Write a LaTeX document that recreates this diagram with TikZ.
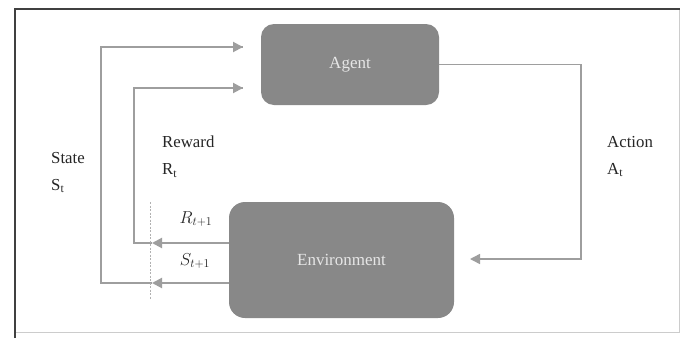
\documentclass[tikz,border=0pt]{standalone}
\usepackage{fontspec}
\setmainfont{Liberation Serif}
\usetikzlibrary{arrows.meta}
\definecolor{boxfill}{HTML}{888888}
\definecolor{linegray}{HTML}{9E9E9E}
\definecolor{boxtext}{HTML}{E6E6E6}
\begin{document}
\begin{tikzpicture}[x=1pt,y=-1pt,
  block/.style={draw=none, fill=boxfill, rounded corners=13pt, inner sep=0pt,
    text=boxtext, font=\fontsize{17}{20}\selectfont},
  link/.style={draw=linegray, line width=2pt},
  flow/.style={link, -{Triangle[length=10pt,width=10pt]}},
  thinflow/.style={draw=linegray, line width=1.5pt, -{Triangle[length=10pt,width=10pt]}},
  lbl/.style={font=\fontsize{16.8}{27}\selectfont, text=black!85, align=left, inner sep=0pt, anchor=north west},
  mlbl/.style={font=\fontsize{17}{20}\selectfont, text=black!85, inner sep=0pt}]
  \useasboundingbox (0,0) rectangle (688,338);
  \fill[white] (0,0) rectangle (688,338);
  % frame
  \draw[gray!40, line width=1pt] (679,9) -- (679,332) -- (15,332);
  \draw[black!75, line width=2pt] (15,338) -- (15,9) -- (680,9);

  % blocks
  \node[block, minimum width=178pt, minimum height=81pt] (agent) at (350,64.5) {Agent};
  \node[block, minimum width=225pt, minimum height=116pt, rounded corners=16pt] (env) at (341.5,260) {Environment};

  % split points and free ends
  \coordinate (rtip) at (152,243);
  \coordinate (stip) at (152,283);
  \coordinate (rin) at (243,88);
  \coordinate (sin) at (243,47);
  \coordinate (aturn) at (581,259);
  \coordinate (ain) at (470,259);

  % reward feedback
  \draw[flow] (env.west |- rtip) -- (rtip);
  \draw[link] (rtip) -- (134,243) -- (134,88) -- (rin);
  \draw[flow] (200,88) -- (rin);
  % state feedback
  \draw[flow] (env.west |- stip) -- (stip);
  \draw[link] (stip) -- (101,283) -- (101,47) -- (sin);
  \draw[flow] (200,47) -- (sin);
  % action
  \draw[thinflow] (agent.east) -| (aturn) -- (ain);

  % time step boundary
  \draw[linegray!80, line width=0.6pt, dash pattern=on 2pt off 1.5pt] (150,202) -- (150,300);

  % labels
  \node[lbl] (lstate) at (51,152) {State\\S\textsubscript{t}};
  \node[lbl] (lreward) at (162,136) {Reward\\R\textsubscript{t}};
  \node[lbl] (laction) at (607,136) {Action\\A\textsubscript{t}};
  \node[mlbl] (lr1) at (196,219) {$R_{t+1}$};
  \node[mlbl] (ls1) at (195,261) {$S_{t+1}$};
\end{tikzpicture}
\end{document}
